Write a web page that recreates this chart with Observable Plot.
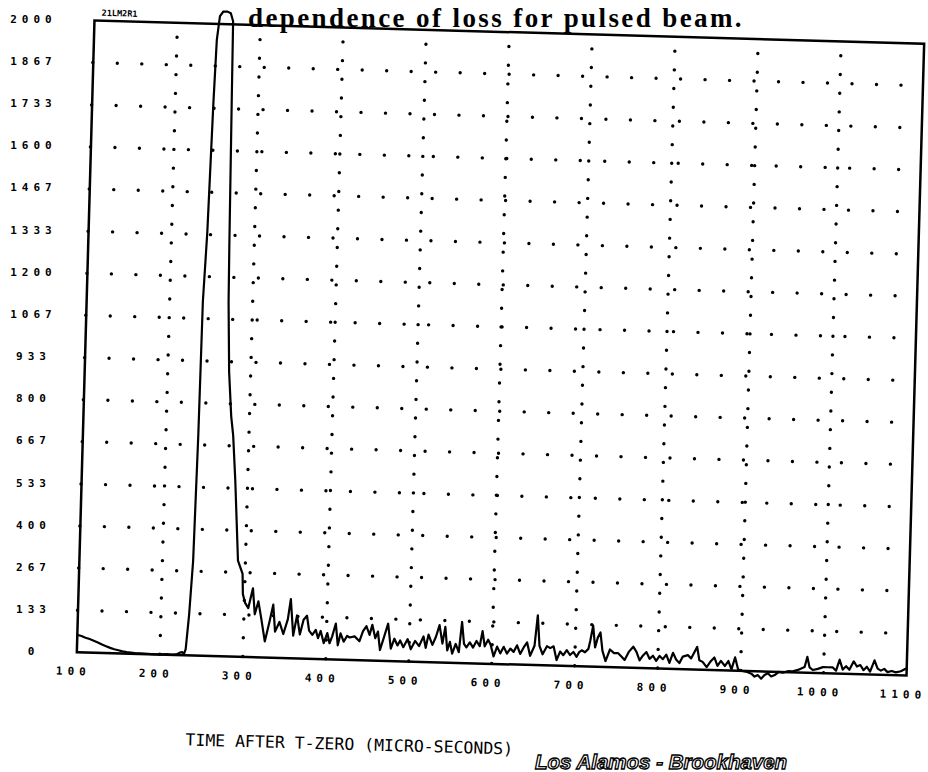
<!DOCTYPE html>
<html>
<head>
<meta charset="utf-8">
<script src="https://cdn.jsdelivr.net/npm/d3@7"></script>
<script src="https://cdn.jsdelivr.net/npm/@observablehq/plot@0.6"></script>
<style>
  html, body { margin: 0; padding: 0; background: #fff; overflow: hidden; width: 928px; height: 772px; }
  #wrap { position: relative; width: 928px; height: 772px; overflow: hidden; }
  #chart svg { position: absolute; left: 0; top: 0; transform: rotate(1.6deg); transform-origin: 500px 347.5px; }
  #yaxis svg { position: absolute; left: 0; top: 0; }
  #title { position: absolute; left: 0; top: 3px; width: 744px; text-align: right; white-space: nowrap;
           font: bold 27px/30px "Liberation Serif", serif; color: #000; letter-spacing: 2.4px; }
  #caption { position: absolute; left: 535px; top: 751px; white-space: nowrap;
             font: italic bold 20.5px/22px "Liberation Sans", sans-serif; color: #fff;
             -webkit-text-stroke: 1.3px #000; letter-spacing: 0px; }
  g[aria-label="y-axis tick label"] text, g[aria-label="x-axis tick label"] text { letter-spacing: 5px; }
  g[aria-label="x-label"] text { letter-spacing: 0.2px; }
  g[aria-label="id-label"] text { letter-spacing: 4.5px; }
</style>
</head>
<body>
<div id="wrap">
  <div id="chart"></div>
  <div id="yaxis"></div>
  <div id="title">dependence of loss for pulsed beam.</div>
  <div id="caption">Los Alamos - Brookhaven</div>
</div>
<script>
const xTicks = [100, 200, 300, 400, 500, 600, 700, 800, 900, 1000, 1100];
const yTicks = [0, 133, 267, 400, 533, 667, 800, 933, 1067, 1200, 1333, 1467, 1600, 1733, 1867, 2000];
const xDomain = [100, 1100];
const yDomain = [0, 2000];
const xLabel = "TIME AFTER T-ZERO (MICRO-SECONDS)";
const plotId = "21LM2R1";

// time after t-zero (microseconds)
const times = [
  100, 105, 110, 115, 120, 125, 130, 135, 140, 145, 150, 155, 160, 170, 180, 190, 200, 210, 215, 220,
  224, 227, 229, 231, 234, 237, 239, 240, 243, 246, 248, 251, 255, 260, 264, 267, 268, 270, 271, 274,
  278, 281, 285, 291, 297, 298, 301, 305, 310, 313, 317, 321, 326, 331, 335, 338, 343, 348, 353, 356,
  360, 364, 368, 372, 376, 379, 383, 387, 390, 393, 397, 401, 404, 407, 411, 414, 417, 421, 425, 428,
  434, 440, 444, 448, 452, 455, 459, 462, 465, 469, 474, 478, 482, 486, 489, 493, 498, 502, 507, 512,
  517, 520, 523, 528, 532, 536, 540, 543, 546, 549, 552, 556, 560, 563, 566, 569, 573, 577, 581, 585,
  588, 591, 595, 598, 602, 606, 610, 614, 618, 622, 626, 630, 634, 638, 642, 646, 651, 654, 657, 661,
  666, 670, 674, 678, 682, 686, 690, 694, 698, 702, 705, 708, 712, 716, 718, 721, 724, 727, 730, 733,
  737, 742, 747, 752, 756, 760, 765, 770, 774, 778, 782, 786, 790, 794, 798, 802, 806, 810, 814, 818,
  822, 826, 830, 836, 840, 843, 847, 850, 854, 859, 863, 868, 872, 876, 881, 885, 889, 893, 897, 902,
  908, 913, 917, 921, 925, 929, 933, 937, 942, 946, 951, 957, 963, 969, 973, 977, 980, 983, 987, 993,
  999, 1005, 1011, 1015, 1019, 1023, 1027, 1031, 1036, 1040, 1044, 1048, 1052, 1056, 1061, 1065, 1069, 1073, 1077, 1082,
  1087, 1093, 1097, 1100
];
// loss signal
const values = [
  55, 52, 47, 43, 38, 33, 27, 22, 17, 13, 10, 7, 5, 3, 2, 1, 1, 2, 1, 2,
  8, 10, 4, 20, 130, 300, 700, 1120, 1340, 1750, 1950, 2025, 2040, 2040, 2035, 2010, 1760, 1300, 1120, 900,
  760, 700, 560, 304, 263, 199, 171, 155, 218, 136, 177, 123, 51, 114, 168, 83, 114, 76, 123, 187,
  72, 136, 76, 123, 136, 89, 76, 92, 66, 89, 51, 83, 51, 73, 114, 45, 83, 57, 76, 71,
  75, 60, 92, 108, 81, 113, 71, 92, 34, 71, 118, 39, 71, 50, 66, 45, 71, 39, 66, 50,
  81, 45, 87, 55, 81, 118, 60, 113, 39, 66, 29, 60, 34, 130, 61, 50, 66, 50, 71, 55,
  103, 55, 76, 61, 24, 55, 34, 55, 34, 50, 40, 61, 34, 55, 71, 29, 61, 158, 61, 35,
  61, 55, 61, 18, 45, 34, 50, 35, 45, 30, 45, 51, 45, 56, 82, 130, 61, 93, 109, 51,
  19, 56, 45, 45, 35, 24, 51, 67, 51, 24, 40, 51, 30, 40, 24, 40, 30, 45, 19, 51,
  30, 19, 40, 45, 35, 51, 72, 30, 25, 9, 25, 40, 14, 30, 14, 30, 4, 42, 4, 0,
  -3, -8, -17, -12, -23, -11, -5, -15, -9, 0, -2, 3, 3, 8, 13, 18, 50, 17, 9, 13,
  19, 19, 19, 9, 44, 13, 24, 13, 40, 24, 29, 13, 24, 9, 45, 19, 13, 19, 9, 13,
  9, 13, 19, 22
];

const data = times.map((t, i) => ({t, v: values[i]}));

const baseStyle = {fontFamily: "'DejaVu Sans Mono', monospace", fontSize: "11px", fontWeight: "bold", color: "#000", background: "transparent", overflow: "visible"};

const chart = Plot.plot({
  width: 928,
  height: 772,
  marginLeft: 85,
  marginRight: 13,
  marginTop: 31.5,
  marginBottom: 108.5,
  style: baseStyle,
  x: {domain: xDomain},
  y: {domain: yDomain, axis: null},
  marks: [
    Plot.ruleX(xTicks.slice(1, -1), {y1: yDomain[0], y2: yDomain[1], stroke: "#000", strokeWidth: 3.4, strokeDasharray: "0 18.7", strokeLinecap: "round"}),
    Plot.ruleY(yTicks.slice(1, -1), {x1: xDomain[0], x2: xDomain[1], stroke: "#000", strokeWidth: 3.4, strokeDasharray: "0 24.5", strokeLinecap: "round"}),
    Plot.frame({stroke: "#000", strokeWidth: 2.5}),
    Plot.line(data, {x: "t", y: "v", stroke: "#000", strokeWidth: 2.2, strokeLinejoin: "round"}),
    Plot.axisX({ticks: xTicks, tickSize: 0, tickPadding: 15, dx: -3, label: null, tickFormat: d => String(d)}),
    Plot.text([xLabel], {frameAnchor: "bottom-left", textAnchor: "start", dx: 111, dy: 90, fontFamily: "'DejaVu Sans Mono', monospace", fontSize: 16.5, fontWeight: "normal", ariaLabel: "x-label"}),
    Plot.text([plotId], {frameAnchor: "top-left", textAnchor: "start", dx: 7, dy: -11, fontSize: 8.5, fontWeight: "bold", ariaLabel: "id-label"})
  ]
});

// y-axis tick labels (not skewed in the scan)
const yAxis = Plot.plot({
  width: 90,
  height: 772,
  marginLeft: 85,
  marginRight: 5,
  marginTop: 19,
  marginBottom: 121,
  style: baseStyle,
  y: {domain: yDomain},
  marks: [
    Plot.axisY({ticks: yTicks, tickSize: 0, tickPadding: 52, textAnchor: "middle", label: null, tickFormat: d => String(d)})
  ]
});

document.getElementById("chart").appendChild(chart);
document.getElementById("yaxis").appendChild(yAxis);
</script>
</body>
</html>
